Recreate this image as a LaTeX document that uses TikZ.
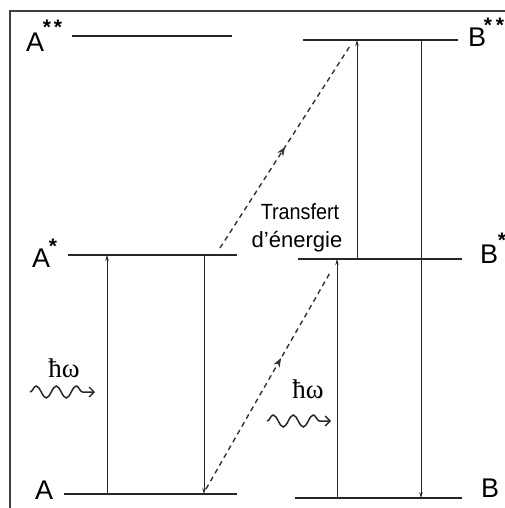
\documentclass[tikz,border=0pt]{standalone}
\usepackage{fontspec}
\setmainfont{Liberation Sans}
\newfontfamily\hwfont{Liberation Serif}
\usetikzlibrary{arrows.meta,decorations.pathmorphing,decorations.markings}
\begin{document}
\begin{tikzpicture}[x=1pt,y=-1pt,
  level/.style={line width=1.4pt, black!85},
  trans/.style={line width=0.8pt, black!85, -{Stealth[length=6pt,width=3.5pt]}},
  transfer/.style={line width=1.4pt, black!80, dash pattern=on 5pt off 4pt,
    postaction={decorate, decoration={markings, mark=at position #1 with {\arrow[line width=0.8pt]{Stealth[length=9pt,width=7pt]}}}}},
  lab/.style={font=\fontsize{27}{30}\selectfont, inner sep=0pt, anchor=base west},
  star/.style={font=\bfseries\fontsize{21}{22}\selectfont, inner sep=0pt, anchor=base},
  photon/.style={line width=1.5pt, black!85, -{Straight Barb[length=5pt,width=10pt,line width=1.3pt]}, decorate,
    decoration={snake, amplitude=6pt, segment length=20pt, post length=5pt}},
  hw/.style={font=\hwfont\fontsize{27}{29}\selectfont, inner sep=0pt},
  frame/.style={line width=1.6pt, black!75}]
\useasboundingbox (0,0) rectangle (505,508);
% frame (top and left edges)
\coordinate (fTL) at (10,11);
\coordinate (fTR) at (505,11);
\coordinate (fBL) at (10,508);
\draw[frame] (fBL) -- (fTL) -- (fTR);
% levels
\coordinate (Ass1) at (72,36);  \coordinate (Ass2) at (232,36);
\coordinate (Bss1) at (303,40); \coordinate (Bss2) at (458,40);
\coordinate (As1) at (68,255);  \coordinate (As2) at (237,255);
\coordinate (Bs1) at (298,259); \coordinate (Bs2) at (462,259);
\coordinate (A1) at (64,494);   \coordinate (A2) at (237,494);
\coordinate (B1) at (295,498);  \coordinate (B2) at (462,498);
\draw[level] (Ass1) -- (Ass2);
\draw[level] (Bss1) -- (Bss2);
\draw[level] (As1) -- (As2);
\draw[level] (Bs1) -- (Bs2);
\draw[level] (A1) -- (A2);
\draw[level] (B1) -- (B2);
% labels
\node[lab] (lAss) at (26,52) {A};
\node[star] (sA1) at (47,35) {*};
\node[star] (sA2) at (58,35) {*};
\node[lab] (lAs) at (32,267) {A};
\node[star] (sA3) at (53,253) {*};
\node[lab] (lA) at (35,499) {A};
\node[lab] (lBss) at (468,47) {B};
\node[star] (sB1) at (488,33) {*};
\node[star] (sB2) at (500,33) {*};
\node[lab] (lBs) at (480,263) {B};
\node[star] (sB3) at (502,247) {*};
\node[lab] (lB) at (481,497) {B};
% vertical transitions
\coordinate (u1a) at (107,494); \coordinate (u1b) at (107,255);
\coordinate (d1a) at (204,255); \coordinate (d1b) at (204,494);
\coordinate (u2a) at (337,498); \coordinate (u2b) at (337,259);
\coordinate (u3a) at (357,259); \coordinate (u3b) at (357,40);
\coordinate (d2a) at (421,40);  \coordinate (d2b) at (421,498);
\draw[trans] (u1a) -- (u1b);
\draw[trans] (d1a) -- (d1b);
\draw[trans] (u2a) -- (u2b);
\draw[trans] (u3a) -- (u3b);
\draw[trans] (d2a) -- (d2b);
% energy transfer (dashed)
\coordinate (t1a) at (206,489); \coordinate (t1b) at (331,271);
\coordinate (t2a) at (220,248); \coordinate (t2b) at (350,46);
\draw[transfer=0.6] (t1a) -- (t1b);
\draw[transfer=0.5] (t2a) -- (t2b);
\node[inner sep=0pt, anchor=base, font=\fontsize{22}{24}\selectfont] (tr1) at (300,219) {\scalebox{0.9}[1]{Transfert}};
\node[inner sep=0pt, anchor=base, font=\fontsize{22}{24}\selectfont] (tr2) at (297,247) {d'énergie};
% photons
\node[hw] (hw1) at (64,368) {ħω};
\coordinate (w1a) at (30,392); \coordinate (w1b) at (95,392);
\draw[photon] (w1a) -- (w1b);
\node[hw] (hw2) at (308,389) {ħω};
\coordinate (w2a) at (267,421); \coordinate (w2b) at (331,421);
\draw[photon] (w2a) -- (w2b);
\end{tikzpicture}
\end{document}
